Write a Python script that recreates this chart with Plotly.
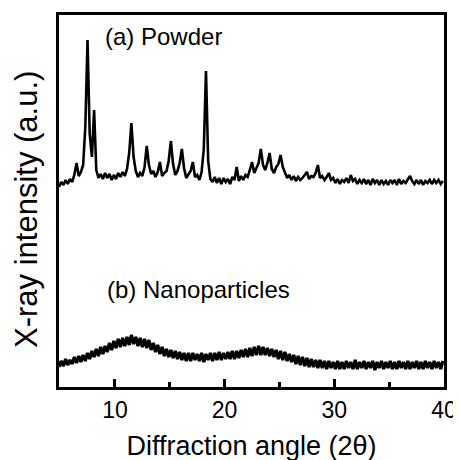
import plotly.graph_objects as go

# 2-theta sampling of the scans (degrees)
two_theta = [
    4.9, 5.1, 5.3, 5.5, 5.7, 5.9, 6.1, 6.3, 6.5, 6.7,
    6.9, 7.1, 7.3, 7.5, 7.7, 7.9, 8.1, 8.3, 8.5, 8.7,
    8.9, 9.1, 9.3, 9.5, 9.7, 9.9, 10.1, 10.3, 10.5, 10.7,
    10.9, 11.1, 11.3, 11.5, 11.7, 11.9, 12.1, 12.3, 12.5, 12.7,
    12.9, 13.1, 13.3, 13.5, 13.7, 13.9, 14.1, 14.3, 14.5, 14.7,
    14.9, 15.1, 15.3, 15.5, 15.7, 15.9, 16.1, 16.3, 16.5, 16.7,
    16.9, 17.1, 17.3, 17.5, 17.7, 17.9, 18.1, 18.3, 18.5, 18.7,
    18.9, 19.1, 19.3, 19.5, 19.7, 19.9, 20.1, 20.3, 20.5, 20.7,
    20.9, 21.1, 21.3, 21.5, 21.7, 21.9, 22.1, 22.3, 22.5, 22.7,
    22.9, 23.1, 23.3, 23.5, 23.7, 23.9, 24.1, 24.3, 24.5, 24.7,
    24.9, 25.1, 25.3, 25.5, 25.7, 25.9, 26.1, 26.3, 26.5, 26.7,
    26.9, 27.1, 27.3, 27.5, 27.7, 27.9, 28.1, 28.3, 28.5, 28.7,
    28.9, 29.1, 29.3, 29.5, 29.7, 29.9, 30.1, 30.3, 30.5, 30.7,
    30.9, 31.1, 31.3, 31.5, 31.7, 31.9, 32.1, 32.3, 32.5, 32.7,
    32.9, 33.1, 33.3, 33.5, 33.7, 33.9, 34.1, 34.3, 34.5, 34.7,
    34.9, 35.1, 35.3, 35.5, 35.7, 35.9, 36.1, 36.3, 36.5, 36.7,
    36.9, 37.1, 37.3, 37.5, 37.7, 37.9, 38.1, 38.3, 38.5, 38.7,
    38.9, 39.1, 39.3, 39.5, 39.7, 39.9,
]

# (a) Powder, intensity (a.u., offset trace)
powder_intensity = [
    202, 207, 204, 209, 205, 210, 207, 214, 226, 213,
    217, 224, 262, 349, 255, 232, 279, 219, 211, 215,
    210, 216, 211, 215, 209, 214, 210, 216, 212, 217,
    213, 220, 236, 266, 232, 218, 212, 216, 213, 222,
    243, 224, 215, 218, 212, 217, 227, 213, 216, 218,
    228, 248, 225, 214, 218, 226, 240, 221, 211, 215,
    218, 227, 212, 214, 209, 217, 240, 318, 228, 210,
    207, 212, 206, 211, 205, 211, 207, 210, 205, 212,
    209, 222, 208, 213, 209, 214, 212, 219, 227, 216,
    221, 226, 240, 224, 219, 226, 236, 220, 216, 222,
    225, 234, 222, 217, 211, 214, 209, 213, 208, 212,
    209, 211, 214, 217, 210, 213, 212, 216, 224, 211,
    213, 209, 212, 216, 209, 211, 206, 210, 205, 209,
    207, 211, 206, 214, 208, 210, 205, 209, 206, 210,
    205, 209, 204, 210, 206, 209, 204, 209, 205, 208,
    204, 209, 206, 209, 204, 210, 205, 208, 206, 209,
    213, 208, 205, 209, 205, 209, 204, 208, 206, 209,
    205, 209, 206, 209, 205, 208,
]

# (b) Nanoparticles, intensity (a.u.)
nano_intensity = [
    22, 28, 23, 30, 24, 29, 25, 32, 26, 33,
    27, 34, 28, 36, 30, 38, 32, 40, 33, 42,
    35, 43, 37, 46, 39, 48, 41, 50, 42, 51,
    43, 52, 44, 54, 45, 52, 43, 51, 42, 50,
    41, 49, 39, 46, 37, 44, 35, 42, 33, 40,
    32, 39, 31, 38, 30, 37, 29, 36, 28, 36,
    28, 36, 29, 35, 28, 36, 27, 35, 29, 36,
    28, 36, 29, 37, 29, 36, 30, 37, 30, 38,
    30, 38, 31, 39, 32, 40, 32, 41, 33, 42,
    34, 43, 34, 42, 34, 41, 33, 40, 32, 39,
    30, 38, 29, 37, 28, 35, 27, 34, 25, 33,
    24, 32, 23, 31, 22, 30, 22, 29, 21, 29,
    21, 28, 20, 28, 21, 27, 20, 28, 20, 27,
    20, 28, 21, 27, 20, 29, 20, 27, 21, 28,
    20, 27, 21, 28, 19, 27, 21, 28, 20, 27,
    21, 28, 20, 27, 20, 28, 21, 27, 20, 28,
    20, 27, 21, 28, 20, 27, 20, 28, 21, 27,
    20, 28, 21, 27, 20, 28,
]

major_ticks = [10, 20, 30, 40]
minor_ticks = [15, 25, 35]
labels = ["(a) Powder", "(b) Nanoparticles"]
label_x = [8.95, 9.1]
label_y = [353, 100]
x_title = "Diffraction angle (2θ)"
y_title = "X-ray intensity (a.u.)"

FONT = "Liberation Sans, Arial, Helvetica, sans-serif"
X_RANGE = [4.9, 40]

fig = go.Figure()
fig.add_trace(go.Scatter(x=two_theta, y=powder_intensity, mode="lines",
                         line=dict(color="black", width=2.6), name=labels[0],
                         showlegend=False))
fig.add_trace(go.Scatter(x=two_theta, y=nano_intensity, mode="lines",
                         line=dict(color="black", width=3.2), name=labels[1],
                         showlegend=False))
# invisible carrier trace so the minor-tick overlay axis is drawn
fig.add_trace(go.Scatter(x=two_theta, y=nano_intensity, mode="lines", xaxis="x2",
                         line=dict(color="rgba(0,0,0,0)", width=0),
                         hoverinfo="skip", showlegend=False))

for t, xx, yy in zip(labels, label_x, label_y):
    fig.add_annotation(x=xx, y=yy, xref="x", yref="y", text=t, showarrow=False,
                       xanchor="left", yanchor="middle",
                       font=dict(family=FONT, size=24, color="black"))

# y-axis title placed as rotated text to match its position in the original
fig.add_annotation(x=-0.083, y=0.476, xref="paper", yref="paper", text=y_title,
                   textangle=-90, showarrow=False, xanchor="center", yanchor="middle",
                   font=dict(family=FONT, size=31, color="black"))

fig.update_layout(
    width=461, height=460,
    margin=dict(l=51, r=25, t=7, b=81),
    paper_bgcolor="white", plot_bgcolor="white",
    font=dict(family=FONT, color="black"),
    xaxis=dict(
        range=X_RANGE, showgrid=False, zeroline=False, automargin=False,
        showline=True, linecolor="black", linewidth=3, mirror=True,
        tickvals=major_ticks, ticktext=[str(v) for v in major_ticks],
        ticks="inside", ticklen=8, tickwidth=3, tickcolor="black",
        tickfont=dict(family=FONT, size=23, color="black"),
        title=dict(text=x_title,
                   font=dict(family=FONT, size=27, color="black"), standoff=15),
    ),
    xaxis2=dict(
        range=X_RANGE, overlaying="x", anchor="y", side="bottom",
        showgrid=False, zeroline=False, showline=False, automargin=False,
        tickvals=minor_ticks, showticklabels=False,
        ticks="inside", ticklen=5, tickwidth=3, tickcolor="black",
    ),
    yaxis=dict(
        range=[2, 374], showgrid=False, zeroline=False, automargin=False,
        showline=True, linecolor="black", linewidth=3, mirror=True,
        ticks="", showticklabels=False,
    ),
)

fig.write_html("out.html")
